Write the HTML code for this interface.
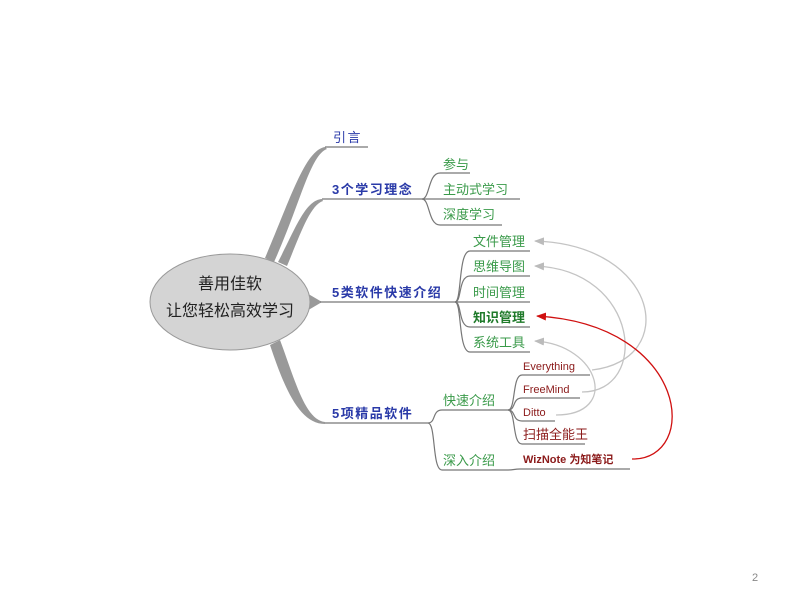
<!DOCTYPE html>
<html><head><meta charset="utf-8"><style>
body{margin:0;background:#fff;}
svg text{font-family:"Liberation Sans","Noto Sans CJK SC",sans-serif;}
</style></head><body>
<svg width="800" height="600" viewBox="0 0 800 600" xmlns="http://www.w3.org/2000/svg">
<defs>
<marker id="ag" markerWidth="10" markerHeight="8" refX="9" refY="4" orient="auto" markerUnits="userSpaceOnUse"><path d="M0,0 L10,4 L0,8 Z" fill="#bbb"/></marker>
<marker id="ar" markerWidth="10" markerHeight="8" refX="9" refY="4" orient="auto" markerUnits="userSpaceOnUse"><path d="M0,0 L10,4 L0,8 Z" fill="#d01010"/></marker>
</defs>
<g fill="#999">
<path d="M265,258 C290,200 305,150 325,147 L327,149 C310,155 300,205 274,262 Z"/>
<path d="M278,262 C295,230 305,200 322,199 L323,201 C310,205 300,235 287,266 Z"/>
<path d="M305,292 L322,302 L305,312 Z"/>
<path d="M280,340 C295,380 305,420 325,422 L325,424 C300,424 285,390 270,345 Z"/>
</g>
<ellipse cx="230" cy="302" rx="80" ry="48" fill="#d4d4d4" stroke="#999" stroke-width="1"/>
<text x="230" y="289" font-size="16" text-anchor="middle" fill="#222">善用佳软</text>
<text x="230" y="316" font-size="16" text-anchor="middle" fill="#222">让您轻松高效学习</text>
<g stroke="#777" stroke-width="1.2" fill="none">
<line x1="325" y1="147" x2="368" y2="147"/>
<line x1="322" y1="199" x2="422" y2="199"/>
<line x1="320" y1="302" x2="455" y2="302"/>
<line x1="325" y1="423" x2="428" y2="423"/>
<path d="M422,199 C430,199 428,173 440,173 L470,173"/>
<path d="M422,199 L520,199"/>
<path d="M422,199 C430,199 428,225 440,225 L502,225"/>
<path d="M455,302 C462,302 458,251 470,251 L530,251"/>
<path d="M455,302 C462,302 458,276 470,276 L530,276"/>
<path d="M455,302 L530,302"/>
<path d="M455,302 C462,302 458,327 470,327 L530,327"/>
<path d="M455,302 C462,302 458,352 470,352 L530,352"/>
<path d="M428,423 C436,423 432,410 442,410 L508,410"/>
<path d="M428,423 C436,423 432,470 442,470 L508,470"/>
<path d="M508,410 C516,410 512,375 522,375 L590,375"/>
<path d="M508,410 C516,410 512,398 522,398 L580,398"/>
<path d="M508,410 C516,410 512,421 522,421 L555,421"/>
<path d="M508,410 C516,410 512,444 522,444 L585,444"/>
<path d="M508,470 C514,470 514,469 520,469 L630,469"/>
</g>
<g font-size="13" fill="#2a3aa8" letter-spacing="1.5">
<text x="333" y="142">引言</text>
<text x="332" y="194" font-weight="bold">3个学习理念</text>
<text x="332" y="297" font-weight="bold">5类软件快速介绍</text>
<text x="332" y="418" font-weight="bold">5项精品软件</text>
</g>
<g font-size="13" fill="#3a9a4a">
<text x="443" y="169">参与</text>
<text x="443" y="194">主动式学习</text>
<text x="443" y="219">深度学习</text>
<text x="473" y="246">文件管理</text>
<text x="473" y="271">思维导图</text>
<text x="473" y="297">时间管理</text>
<text x="473" y="322" font-weight="bold" fill="#1f7a2a">知识管理</text>
<text x="473" y="347">系统工具</text>
<text x="443" y="405">快速介绍</text>
<text x="443" y="465">深入介绍</text>
</g>
<g font-size="11" fill="#8b1a1a">
<text x="523" y="370">Everything</text>
<text x="523" y="393">FreeMind</text>
<text x="523" y="416">Ditto</text>
<text x="523" y="439" font-size="13">扫描全能王</text>
<text x="523" y="463" font-weight="bold">WizNote 为知笔记</text>
</g>
<g stroke="#c4c4c4" stroke-width="1.3" fill="none">
<path d="M592,370 C680,360 660,245 535,241" marker-end="url(#ag)"/>
<path d="M582,392 C650,392 640,270 535,266" marker-end="url(#ag)"/>
<path d="M556,415 C620,415 600,345 535,341" marker-end="url(#ag)"/>
</g>
<path d="M632,459 C700,460 690,325 537,316" stroke="#d01010" stroke-width="1.3" fill="none" marker-end="url(#ar)"/>
<text x="752" y="581" font-size="11" fill="#888">2</text>
</svg>
</body></html>
